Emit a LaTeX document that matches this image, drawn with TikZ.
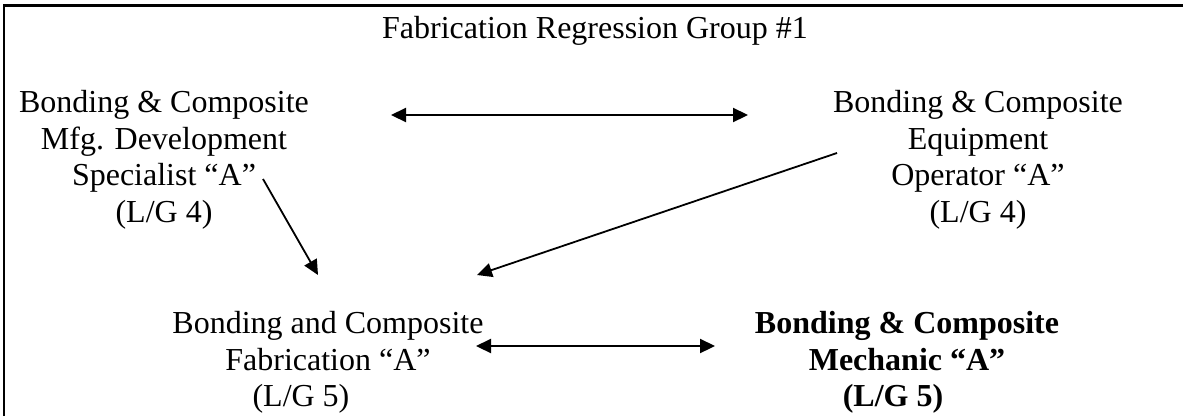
\documentclass[tikz,border=0pt]{standalone}
\usepackage{fontspec}
\setmainfont{Liberation Serif}
\usetikzlibrary{arrows.meta,calc}
\begin{document}
\begin{tikzpicture}[x=1pt,y=-1pt,
  lbl/.style={inner sep=0pt,outer sep=0pt,align=center,anchor=north,
    font=\fontsize{32}{36.8}\selectfont},
  ttl/.style={inner sep=0pt,outer sep=0pt,anchor=base,
    font=\fontsize{32}{36.8}\selectfont},
  tip/.tip={Triangle[length=15pt,width=14pt]},
  link/.style={line width=1.8pt,-tip},
  pair/.style={line width=2.2pt,tip-tip},
  frame/.style={line width=2.6pt,line join=miter}]
\useasboundingbox (0,0) rectangle (1183,416);
\fill[white] (0,0) rectangle (1183,416);
% open frame: left and top rules
\draw[frame] (4,416) -- (4,5.7) -- (1183,5.7);

\node[ttl] (T) at (595,38.5) {Fabrication Regression Group \#1};

\node[lbl] (TL) at (164,90) {Bonding \& Composite\\Mfg. Development\\Specialist “A”\\(L/G 4)};
\node[lbl] (TR) at (978,90) {Bonding \& Composite\\Equipment\\Operator “A”\\(L/G 4)};
\node[lbl] (BL) at (328,311) {Bonding and Composite\\Fabrication “A”\hspace*{10pt}\\(L/G 5)\hspace*{54pt}};
\node[lbl,font=\fontsize{32}{36.8}\selectfont\bfseries] (BR) at (907,311)
  {Bonding \& Composite\\Mechanic “A”\hspace*{36pt}\\(L/G 5)\hspace*{28pt}};

\draw[pair] ($(TL.north)+(227,25)$) -- ($(TR.north)+(-230,25)$);
\draw[link] ($(TL.north)+(99,89)$) -- ($(BL.north)+(-10,-36)$);
\draw[link] ($(TR.north)+(-141,63)$) -- ($(BL.north)+(149,-36)$);
\draw[pair] ($(BL.north)+(148,35)$) -- ($(BR.north)+(-192,35)$);
\end{tikzpicture}
\end{document}
